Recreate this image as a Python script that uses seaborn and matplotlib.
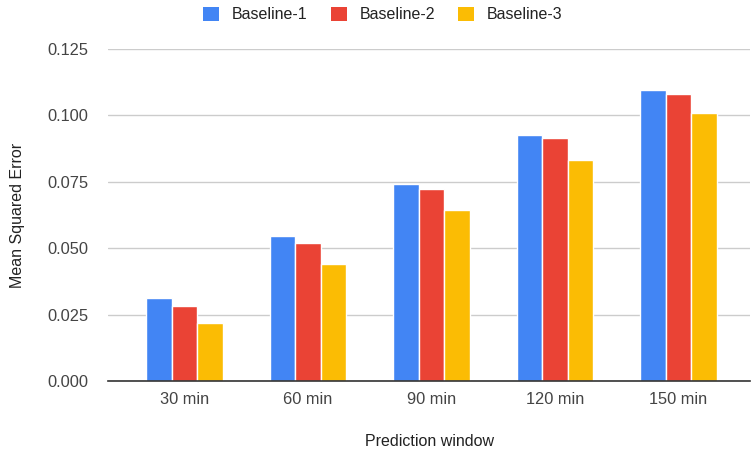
import matplotlib
matplotlib.use("Agg")
import matplotlib.pyplot as plt
import seaborn as sns
import pandas as pd

# Mean squared error per prediction window for each baseline model
windows = ["30 min", "60 min", "90 min", "120 min", "150 min"]
baseline_1 = [0.0311, 0.0546, 0.0743, 0.0925, 0.1094]
baseline_2 = [0.0282, 0.0520, 0.0724, 0.0916, 0.1079]
baseline_3 = [0.0217, 0.0440, 0.0643, 0.0833, 0.1010]
series_names = ["Baseline-1", "Baseline-2", "Baseline-3"]
y_ticks = [0.000, 0.025, 0.050, 0.075, 0.100, 0.125]

palette = ["#4285F4", "#EA4335", "#FBBC04"]

df = pd.DataFrame({
    "window": windows * 3,
    "mse": baseline_1 + baseline_2 + baseline_3,
    "model": [n for n in series_names for _ in windows],
})

sns.set_theme(style="white")
plt.rcParams["font.family"] = ["Liberation Sans", "DejaVu Sans"]

fig = plt.figure(figsize=(7.51, 4.55), dpi=100)
ax = fig.add_axes([0.1438, 0.1626, 0.8549, 0.7297])

sns.barplot(data=df, x="window", y="mse", hue="model", order=windows,
            hue_order=series_names, palette=palette, width=0.62,
            saturation=1, edgecolor="white", linewidth=1.0, ax=ax,
            legend=False, errorbar=None)

ax.set_xlim(-0.62, 4.58)
ax.set_ylim(0, 0.125)
ax.set_yticks(y_ticks)
ax.set_yticklabels([f"{t:.3f}" for t in y_ticks])
ax.yaxis.grid(True, color="#cccccc", linewidth=1)
ax.set_axisbelow(True)
for s in ["top", "right", "left"]:
    ax.spines[s].set_visible(False)
ax.spines["bottom"].set_color("#333333")
ax.spines["bottom"].set_linewidth(1.2)
ax.tick_params(axis="both", length=0, labelsize=11.8, colors="#444444")
ax.tick_params(axis="x", pad=8)
ax.tick_params(axis="y", pad=14)

ax.set_xlabel("Prediction window", fontsize=11.5, color="#222222", labelpad=19)
ax.set_ylabel("Mean Squared Error", fontsize=11.5, color="#222222", labelpad=16)

handles = [plt.Rectangle((0, 0), 1, 1, facecolor=c, edgecolor="none") for c in palette]
fig.legend(handles, series_names, loc="center", bbox_to_anchor=(0.51, 0.968),
           ncol=3, frameon=False, fontsize=11.5, handlelength=1.0,
           handleheight=1.0, handletextpad=0.8, columnspacing=1.45,
           labelcolor="#222222")

fig.savefig("out.png", dpi=100)
